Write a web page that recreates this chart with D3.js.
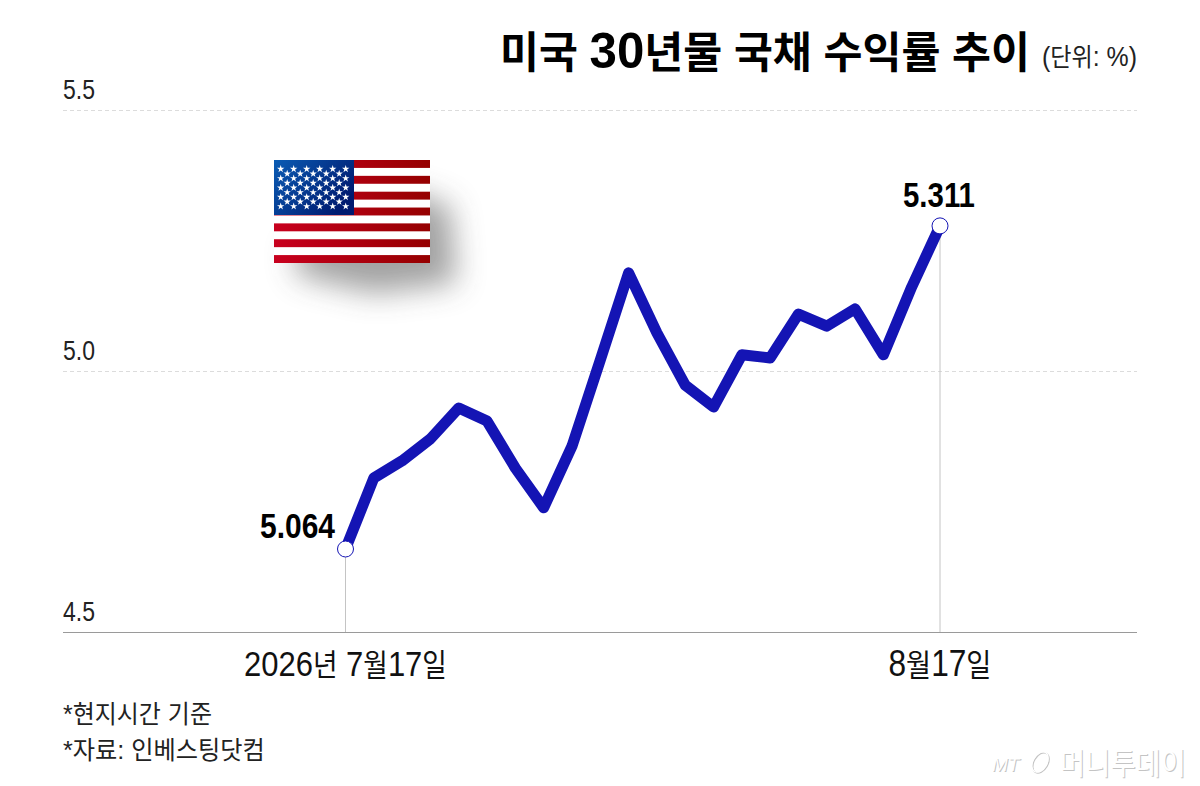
<!DOCTYPE html>
<html><head><meta charset="utf-8">
<script src="https://cdn.jsdelivr.net/npm/d3@7"></script>
<style>html,body{margin:0;padding:0;background:#fff}svg{display:block}text{font-family:"Liberation Sans","Noto Sans CJK KR",sans-serif}</style>
</head><body><svg id="c" width="1200" height="786"></svg>
<script>
const yTickValues=[4.5,5.0,5.5];
const yTickLabels=["4.5","5.0","5.5"];
const seriesIndex=d3.range(22);
const seriesValues=[4.659,4.795,4.828,4.870,4.929,4.904,4.814,4.738,4.856,5.021,5.188,5.073,4.973,4.931,5.031,5.025,5.109,5.086,5.119,5.031,5.161,5.278];
const xTickIndex=[0,21];
const xTickLabels=["2026년 7월17일","8월17일"];
const endLabels=["5.064","5.311"];
const titleText="미국 30년물 국채 수익률 추이";
const unitText="(단위: %)";
const notes=["*현지시간 기준","*자료: 인베스팅닷컴"];

const svg=d3.select("#c");
const x=d3.scaleLinear().domain([0,21]).range([345.5,940]);
const y=d3.scaleLinear().domain([4.5,5.5]).range([632,110]);
const defs=svg.append("defs");
const blur=defs.append("filter").attr("id","blur").attr("x","-50%").attr("y","-50%").attr("width","200%").attr("height","200%");
blur.append("feGaussianBlur").attr("stdDeviation",15);
const red=defs.append("linearGradient").attr("id","red");
red.append("stop").attr("offset",0).attr("stop-color","#c8001e");
red.append("stop").attr("offset",1).attr("stop-color","#950000");
const blue=defs.append("linearGradient").attr("id","blue").attr("x2",1).attr("y2",0.6);
blue.append("stop").attr("offset",0).attr("stop-color","#0a5cb4");
blue.append("stop").attr("offset",1).attr("stop-color","#001a70");

function fitted(parent,str,px,py,width,anchor,latin,hangul,attrs={}){
  const t=parent.append("text");
  Object.entries(attrs).forEach(([k,v])=>t.attr(k,v));
  (str.match(/[\x00-\x7f]+|[^\x00-\x7f]+/g)||[]).forEach(run=>{
    t.append("tspan").attr("font-size",/^[\x00-\x7f]/.test(run)?latin:hangul).text(run);
  });
  t.style("white-space","pre");
  const w=t.node().getComputedTextLength();
  const k=width/w, left=anchor==="middle"?px-width/2:px;
  t.attr("transform",`translate(${left},${py}) scale(${k},1)`);
  return t;
}

// grid
svg.append("g").selectAll("line").data([5.0,5.5]).join("line")
 .attr("x1",63).attr("x2",1137).attr("y1",d=>y(d)+.5).attr("y2",d=>y(d)+.5)
 .attr("stroke","#dcdcdc").attr("stroke-width",1).attr("stroke-dasharray","4 3");
svg.append("line").attr("x1",63).attr("x2",1137).attr("y1",632.5).attr("y2",632.5).attr("stroke","#9a9a9a").attr("stroke-width",1.2);
yTickValues.forEach((d,i)=>fitted(svg,yTickLabels[i],63,y(d)-11,32,"start",28,28,{fill:"#222"}));

// flag
const fx=274,fy=160,fw=156,fh=103,sh=fh/13;
const flag=svg.append("g");
flag.append("path").attr("d",`M${fx+20},${fy+fh-15}L${fx+fw-30},${fy+30}L${fx+fw+20},${fy+46}L${fx+fw+26},${fy+fh+20}L${fx+100},${fy+fh+30}L${fx+24},${fy+fh+12}Z`)
 .attr("fill","#444").attr("opacity",.5).attr("filter","url(#blur)");
flag.append("rect").attr("x",fx).attr("y",fy).attr("width",fw).attr("height",fh).attr("fill","#fff");
flag.selectAll(".s").data(d3.range(0,13,2)).join("rect").attr("class","s")
 .attr("x",fx).attr("y",d=>fy+d*sh).attr("width",fw).attr("height",sh).attr("fill","url(#red)");
flag.append("rect").attr("x",fx).attr("y",fy).attr("width",80).attr("height",55).attr("fill","url(#blue)");
const stars=[];
for(let r=0;r<9;r++){const n=r%2?5:6;for(let c=0;c<n;c++)stars.push([fx+6.7+c*13+(r%2?6.5:0),fy+9+r*4.67]);}
flag.selectAll(".st").data(stars).join("path").attr("class","st")
 .attr("d",d3.symbol(d3.symbolStar,17)).attr("transform",d=>`translate(${d[0]},${d[1]})`).attr("fill","#fff");

// drop lines
svg.append("g").selectAll("line").data(xTickIndex).join("line")
 .attr("x1",d=>x(d)).attr("x2",d=>x(d)).attr("y1",d=>y(seriesValues[d])).attr("y2",632)
 .attr("stroke","#c4c4c4").attr("stroke-width",1);

// line
const line=d3.line().x((d,i)=>x(seriesIndex[i])).y(d=>y(d)).curve(d3.curveLinear);
svg.append("path").attr("d",line(seriesValues)).attr("fill","none").attr("stroke","#1414b4")
 .attr("stroke-width",11).attr("stroke-linejoin","round").attr("stroke-linecap","butt");
svg.append("g").selectAll("circle").data(xTickIndex).join("circle")
 .attr("cx",d=>x(d)).attr("cy",d=>y(seriesValues[d])).attr("r",8)
 .attr("fill","#fff").attr("stroke","#1414b4").attr("stroke-width",1);

// end labels
fitted(svg,endLabels[0],260,538,75,"start",36,36,{"font-weight":700,fill:"#000"});
fitted(svg,endLabels[1],903,207,72,"start",36,36,{"font-weight":700,fill:"#000"});

// x labels
xTickLabels.forEach((d,i)=>fitted(svg,d,[345.5,940][i],676,[203,103][i],"middle",36,31,{fill:"#111"}));

// title
fitted(svg,titleText,500,68,530,"start",50,43,{"font-weight":700,fill:"#000","word-spacing":-2});
fitted(svg,unitText,1042,66,95,"start",27,25,{fill:"#222"});

// notes
notes.forEach((d,i)=>fitted(svg,d,63,723+i*36,[149,202][i],"start",26,25,{fill:"#222"}));

// watermark
const wm=svg.append("g");
[[1,1,"#c4c4c4"],[0,0,"#fff"]].forEach(([dx,dy,c])=>{
  const g=wm.append("g").attr("transform",`translate(${dx},${dy})`).attr("fill",c);
  g.append("text").attr("x",992).attr("y",771).attr("font-size",19).attr("font-style","italic").attr("font-family","Liberation Serif").text("MT");
  g.append("ellipse").attr("cx",1040).attr("cy",762).attr("rx",7).attr("ry",11).attr("transform","rotate(30 1040 762)").attr("fill","none").attr("stroke",c).attr("stroke-width",1.3);
  fitted(g,"머니투데이",1060,774,126,"start",30,30,{"font-weight":400});
});
</script></body></html>
